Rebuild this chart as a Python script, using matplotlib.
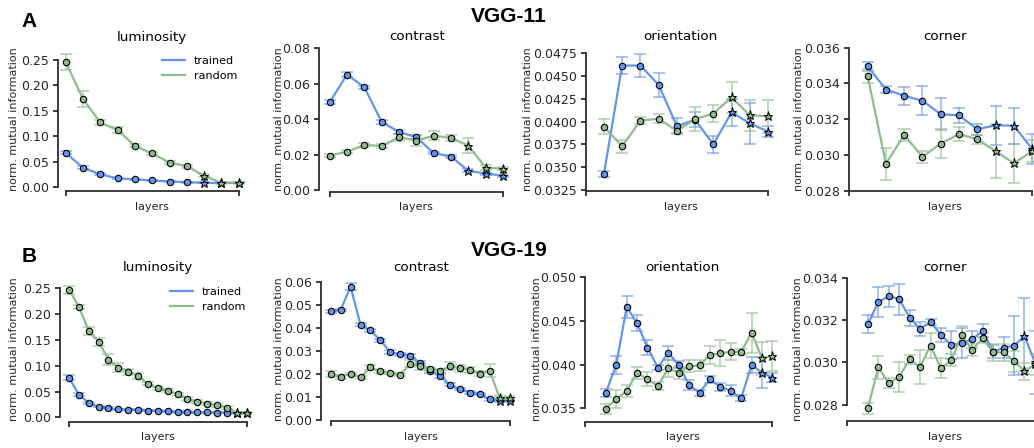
import numpy as np
from matplotlib import pyplot as plt

W, H = 1034, 448
BLUE = '#6495ed'
GREEN = '#8fbc8f'
INK = '0.15'

# ---------------- data ----------------
# VGG-11: luminosity / contrast on layers 0..10, orientation / corner on layers 1..10
vgg11_x_all = list(range(0, 11))
vgg11_x_sub = list(range(1, 11))

vgg11_lum_trained = [0.067, 0.038, 0.025, 0.017, 0.015, 0.013, 0.0105, 0.0098, 0.008, 0.008, 0.008]
vgg11_lum_trained_err = [0.003, 0.003, 0.002, 0.0015, 0.001, 0.001, 0.001, 0.001, 0.001, 0.001, 0.001]
vgg11_lum_random = [0.246, 0.173, 0.127, 0.112, 0.081, 0.066, 0.048, 0.041, 0.022, 0.0085, 0.0085]
vgg11_lum_random_err = [0.016, 0.015, 0.004, 0.006, 0.003, 0.003, 0.003, 0.003, 0.003, 0.002, 0.002]

vgg11_con_trained = [0.0496, 0.0652, 0.058, 0.0385, 0.0329, 0.0299, 0.021, 0.019, 0.011, 0.0094, 0.0083]
vgg11_con_trained_err = [0.001, 0.0015, 0.001, 0.0012, 0.001, 0.001, 0.0008, 0.0008, 0.0008, 0.0006, 0.0006]
vgg11_con_random = [0.0195, 0.0218, 0.0255, 0.025, 0.0299, 0.028, 0.0308, 0.0295, 0.0252, 0.0128, 0.0122]
vgg11_con_random_err = [0.001, 0.001, 0.0012, 0.001, 0.002, 0.003, 0.0025, 0.0015, 0.004, 0.0015, 0.001]

vgg11_ori_trained = [0.0343, 0.0461, 0.0461, 0.0440, 0.0395, 0.0402, 0.0375, 0.0410, 0.0398, 0.0389]
vgg11_ori_trained_err = [0.0003, 0.0009, 0.0013, 0.0013, 0.0009, 0.0008, 0.0009, 0.0015, 0.0022, 0.0006]
vgg11_ori_random = [0.03945, 0.0373, 0.0401, 0.0403, 0.0390, 0.04025, 0.04087, 0.04262, 0.04069, 0.04058]
vgg11_ori_random_err = [0.0008, 0.0007, 0.0004, 0.0005, 0.0003, 0.0013, 0.0009, 0.0017, 0.0017, 0.0018]

vgg11_cor_trained = [0.03495, 0.03366, 0.03331, 0.03303, 0.03228, 0.03221, 0.03144, 0.03166, 0.03164, 0.03034]
vgg11_cor_trained_err = [0.00026, 0.0002, 0.0005, 0.0008, 0.0009, 0.0004, 0.0003, 0.0011, 0.001, 0.00084]
vgg11_cor_random = [0.03441, 0.02951, 0.03112, 0.02989, 0.03064, 0.03116, 0.03088, 0.03022, 0.02953, 0.03021]
vgg11_cor_random_err = [0.0004, 0.0009, 0.00035, 0.00035, 0.0008, 0.0004, 0.00025, 0.0015, 0.0011, 0.0006]

# VGG-19: luminosity / contrast on layers 0..18, orientation / corner on layers 2..18
vgg19_x_all = list(range(0, 19))
vgg19_x_sub = list(range(2, 19))

vgg19_lum_trained = [0.0769, 0.0439, 0.0284, 0.020, 0.018, 0.0155, 0.0142, 0.0142, 0.013, 0.0123,
                     0.0116, 0.0103, 0.0103, 0.0097, 0.0097, 0.009, 0.009, 0.009, 0.009]
vgg19_lum_trained_err = [0.005, 0.003, 0.002, 0.001, 0.001, 0.001, 0.001, 0.001, 0.001, 0.001,
                         0.001, 0.001, 0.001, 0.001, 0.001, 0.001, 0.001, 0.001, 0.001]
vgg19_lum_random = [0.2474, 0.2145, 0.1673, 0.1466, 0.1118, 0.0963, 0.0885, 0.0801, 0.0652, 0.0562,
                    0.0517, 0.0446, 0.0355, 0.0304, 0.0265, 0.0233, 0.0187, 0.009, 0.009]
vgg19_lum_random_err = [0.008, 0.004, 0.007, 0.008, 0.011, 0.009, 0.006, 0.005, 0.003, 0.003,
                        0.003, 0.003, 0.003, 0.003, 0.003, 0.003, 0.003, 0.002, 0.002]

vgg19_con_trained = [0.0472, 0.0477, 0.0578, 0.0413, 0.0388, 0.0345, 0.0294, 0.0284, 0.0277, 0.0248,
                     0.0212, 0.019, 0.0152, 0.0133, 0.0117, 0.0112, 0.0088, 0.0083, 0.0081]
vgg19_con_trained_err = [0.0006, 0.0006, 0.0015, 0.0006, 0.0006, 0.0007, 0.0007, 0.0006, 0.0007, 0.0008,
                         0.0007, 0.0007, 0.0007, 0.0006, 0.0006, 0.0006, 0.0005, 0.0005, 0.0005]
vgg19_con_random = [0.0197, 0.0187, 0.0199, 0.0184, 0.0228, 0.021, 0.0203, 0.0196, 0.0243, 0.0232,
                    0.022, 0.0212, 0.0233, 0.0223, 0.0217, 0.02, 0.0212, 0.0094, 0.0094]
vgg19_con_random_err = [0.0013, 0.0008, 0.0006, 0.0006, 0.001, 0.0006, 0.0006, 0.0006, 0.0015, 0.0015,
                        0.001, 0.0008, 0.0018, 0.0015, 0.0012, 0.001, 0.0028, 0.0007, 0.0007]

vgg19_ori_trained = [0.03679, 0.03996, 0.0466, 0.04477, 0.04195, 0.03966, 0.04137, 0.03996, 0.03767,
                     0.03679, 0.03832, 0.03744, 0.03702, 0.03615, 0.03996, 0.03908, 0.03851]
vgg19_ori_trained_err = [0.00046, 0.001, 0.00126, 0.00095, 0.0009, 0.0003, 0.0008, 0.0004, 0.0006,
                         0.00035, 0.0004, 0.00046, 0.00065, 0.00035, 0.0009, 0.0018, 0.0005]
vgg19_ori_random = [0.03496, 0.03607, 0.03698, 0.03908, 0.03832, 0.03756, 0.03958, 0.03908, 0.03981,
                    0.03992, 0.04111, 0.0413, 0.04149, 0.04145, 0.04366, 0.04073, 0.04099]
vgg19_ori_random_err = [0.00057, 0.001, 0.0007, 0.0007, 0.0008, 0.0005, 0.001, 0.0007, 0.0007,
                        0.0006, 0.001, 0.0015, 0.001, 0.0003, 0.0023, 0.0019, 0.0017]

vgg19_cor_trained = [0.03181, 0.03284, 0.03313, 0.03299, 0.03211, 0.03158, 0.03192, 0.03129, 0.03082,
                     0.0309, 0.03109, 0.0315, 0.0305, 0.03069, 0.03079, 0.03124, 0.0300]
vgg19_cor_trained_err = [0.00043, 0.0007, 0.0005, 0.00073, 0.00037, 0.00033, 0.00014, 0.00033, 0.00068,
                         0.0007, 0.0004, 0.0003, 0.0003, 0.0005, 0.0014, 0.0018, 0.0015]
vgg19_cor_random = [0.02783, 0.02976, 0.02902, 0.02932, 0.03014, 0.02978, 0.03079, 0.02972, 0.03011,
                    0.03129, 0.03058, 0.03115, 0.03047, 0.03047, 0.03006, 0.02959, 0.0299]
vgg19_cor_random_err = [0.00025, 0.00055, 0.00024, 0.0007, 0.00022, 0.0008, 0.0006, 0.00047, 0.0003,
                        0.00043, 0.0003, 0.00025, 0.0004, 0.0004, 0.0005, 0.0004, 0.0005]

features = ['luminosity', 'contrast', 'orientation', 'corner']
lum_ticks = [0.0, 0.05, 0.10, 0.15, 0.20, 0.25]
vgg11_con_ticks = [0.0, 0.02, 0.04, 0.06, 0.08]
vgg11_ori_ticks = [0.0325, 0.0350, 0.0375, 0.0400, 0.0425, 0.0450, 0.0475]
vgg11_cor_ticks = [0.028, 0.030, 0.032, 0.034, 0.036]
vgg19_con_ticks = [0.0, 0.01, 0.02, 0.03, 0.04, 0.05, 0.06]
vgg19_ori_ticks = [0.035, 0.040, 0.045, 0.050]
vgg19_cor_ticks = [0.028, 0.030, 0.032, 0.034]


# ---------------- helpers ----------------
def px_axes(fig, left, x0, dx, bottom, yref_px, yref_val, ppu, x_max, y_top):
    # place an axes so that data units land on the given pixel positions
    xl = (left - x0) / dx
    xr = x_max + 0.45
    yl = yref_val - (bottom - yref_px) / ppu
    right = x0 + xr * dx
    top = yref_px - (y_top - yref_val) * ppu
    ax = fig.add_axes([left / W, 1 - bottom / H, (right - left) / W, (bottom - top) / H])
    ax.set_xlim(xl, xr)
    ax.set_ylim(yl, y_top)
    return ax


def draw_series(ax, x, mean, err, color, n_star):
    x = np.asarray(x)
    mean = np.asarray(mean)
    ax.errorbar(x, mean, yerr=err, fmt='none', ecolor=color, alpha=0.65,
                elinewidth=1.2, capsize=4, capthick=1.2, zorder=2)
    line, = ax.plot(x, mean, color=color, lw=1.6, zorder=3)
    ax.plot(x[:-n_star], mean[:-n_star], 'o', ms=4.6, mfc=color, mec='k', mew=0.8, zorder=4)
    ax.plot(x[-n_star:], mean[-n_star:], '*', ms=6.8, mfc=color, mec='k', mew=0.7, zorder=4)
    return line


def style_axes(ax, yticks, fmt, x_last):
    for side in ['top', 'right']:
        ax.spines[side].set_visible(False)
    for side in ['left', 'bottom']:
        ax.spines[side].set_color(INK)
        ax.spines[side].set_linewidth(1.25)
    ax.spines['left'].set_bounds(yticks[0], yticks[-1])
    ax.spines['bottom'].set_bounds(0, x_last)
    ax.set_yticks(yticks)
    ax.set_yticklabels([fmt.format(t) for t in yticks])
    ax.set_xticks([0, x_last])
    ax.set_xticklabels([])
    ax.tick_params(direction='out', length=3.5, width=1.25, colors=INK, labelsize=9, pad=3)


fig = plt.figure(figsize=(W / 100, H / 100), dpi=100)

# pixel geometry per panel: left, x0, dx, bottom, yref_px, yref_val, px per unit, y_top
geom_a = [(58.3, 65.7, 17.3, 190.7, 187.0, 0.0, 508, 0.27),
          (319.0, 329.7, 17.33, 191.5, 190.3, 0.0, 1775, 0.081),
          (585.7, 585.7, 18.23, 190.7, 190.3, 0.0325, 9173, 0.0478),
          (849.0, 849.4, 18.27, 191.0, 190.7, 0.028, 17875, 0.0362)]
geom_b = [(60.0, 69.0, 9.87, 421.7, 417.3, 0.0, 516, 0.265),
          (320.7, 330.7, 9.94, 421.0, 419.7, 0.0, 2300, 0.0605),
          (585.0, 585.0, 10.41, 421.7, 408.3, 0.035, 8733, 0.0502),
          (847.0, 847.0, 10.44, 421.0, 404.7, 0.028, 21167, 0.0342)]

rows = [
    dict(geom=geom_a, x_last=10, n_star=3,
         xs=[vgg11_x_all, vgg11_x_all, vgg11_x_sub, vgg11_x_sub],
         trained=[vgg11_lum_trained, vgg11_con_trained, vgg11_ori_trained, vgg11_cor_trained],
         trained_err=[vgg11_lum_trained_err, vgg11_con_trained_err, vgg11_ori_trained_err, vgg11_cor_trained_err],
         random=[vgg11_lum_random, vgg11_con_random, vgg11_ori_random, vgg11_cor_random],
         random_err=[vgg11_lum_random_err, vgg11_con_random_err, vgg11_ori_random_err, vgg11_cor_random_err],
         ticks=[lum_ticks, vgg11_con_ticks, vgg11_ori_ticks, vgg11_cor_ticks],
         fmts=['{:.2f}', '{:.2f}', '{:.4f}', '{:.3f}']),
    dict(geom=geom_b, x_last=18, n_star=2,
         xs=[vgg19_x_all, vgg19_x_all, vgg19_x_sub, vgg19_x_sub],
         trained=[vgg19_lum_trained, vgg19_con_trained, vgg19_ori_trained, vgg19_cor_trained],
         trained_err=[vgg19_lum_trained_err, vgg19_con_trained_err, vgg19_ori_trained_err, vgg19_cor_trained_err],
         random=[vgg19_lum_random, vgg19_con_random, vgg19_ori_random, vgg19_cor_random],
         random_err=[vgg19_lum_random_err, vgg19_con_random_err, vgg19_ori_random_err, vgg19_cor_random_err],
         ticks=[lum_ticks, vgg19_con_ticks, vgg19_ori_ticks, vgg19_cor_ticks],
         fmts=['{:.2f}', '{:.2f}', '{:.3f}', '{:.3f}']),
]

title_px = [[(151.7, 37.0), (417.0, 37.0), (680.7, 37.0), (945.0, 37.0)],
            [(158.0, 267.5), (420.7, 267.0), (682.7, 267.3), (945.0, 267.0)]]
xlabel_px = [[(151.7, 206.7), (416.3, 206.7), (680.7, 206.7), (945.0, 206.7)],
             [(158.3, 436.5), (420.7, 436.5), (682.7, 436.5), (945.0, 436.5)]]
ylabel_px = [[(14.0, 119.5), (278.7, 119.5), (528.3, 119.5), (799.3, 119.5)],
             [(14.0, 349.0), (278.7, 349.0), (537.3, 349.0), (798.3, 349.0)]]
legend_px = [(161.7, 56.0), (170.0, 286.5)]


def fx(px):
    return px / W


def fy(py):
    return 1 - py / H


for r, row in enumerate(rows):
    for c in range(4):
        left, x0, dx, bottom, yref_px, yref_val, ppu, y_top = row['geom'][c]
        ax = px_axes(fig, left, x0, dx, bottom, yref_px, yref_val, ppu, row['x_last'], y_top)
        l1 = draw_series(ax, row['xs'][c], row['trained'][c], row['trained_err'][c], BLUE, row['n_star'])
        l2 = draw_series(ax, row['xs'][c], row['random'][c], row['random_err'][c], GREEN, row['n_star'])
        style_axes(ax, row['ticks'][c], row['fmts'][c], row['x_last'])

        tx, ty = title_px[r][c]
        fig.text(fx(tx), fy(ty), features[c], ha='center', va='center', fontsize=9.7, color='k')
        lx, ly = xlabel_px[r][c]
        fig.text(fx(lx), fy(ly), 'layers', ha='center', va='center', fontsize=8, color=INK)
        yx, yy = ylabel_px[r][c]
        fig.text(fx(yx), fy(yy), 'norm. mutual information', rotation=90,
                 ha='center', va='center', fontsize=8, color=INK)

        if c == 0:
            lgx, lgy = legend_px[r]
            ax.legend([l1, l2], ['trained', 'random'], loc='upper left',
                      bbox_to_anchor=(fx(lgx), fy(lgy)), bbox_transform=fig.transFigure,
                      frameon=False, fontsize=8, borderpad=0, borderaxespad=0,
                      handlelength=2.1, handletextpad=0.8, labelspacing=0.45)

bold = dict(family=['Liberation Sans', 'DejaVu Sans'], weight='bold')
fig.text(fx(29), fy(21.7), 'A', ha='center', va='center', fontsize=15, **bold)
fig.text(fx(29), fy(256.5), 'B', ha='center', va='center', fontsize=15, **bold)
fig.text(fx(509), fy(16), 'VGG-11', ha='center', va='center', fontsize=15, **bold)
fig.text(fx(509), fy(250), 'VGG-19', ha='center', va='center', fontsize=15, **bold)

plt.savefig('out.png', dpi=100)
